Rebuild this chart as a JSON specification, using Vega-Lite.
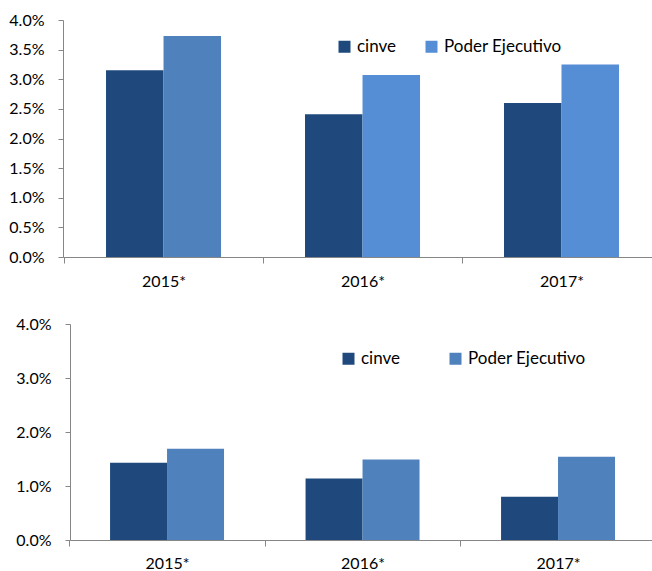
{
  "$schema": "https://vega.github.io/schema/vega-lite/v6.json",
  "padding": {"left": 8, "top": 12, "right": 0, "bottom": 0},
  "background": "white",
  "spacing": 27,
  "config": {
    "view": {"stroke": null},
    "font": "Lato",
    "axis": {"labelFont": "Lato", "labelFontSize": 16, "labelColor": "#000000", "domainColor": "#868686", "tickColor": "#868686", "grid": false, "title": null, "tickSize": 6},
    "legend": {"labelFont": "Lato", "labelFontSize": 17, "labelColor": "#000000"}
  },
  "datasets": {
    "top": [
      {"year": "2015*", "series": "cinve", "value": 0.0315},
      {"year": "2015*", "series": "Poder Ejecutivo", "value": 0.0373},
      {"year": "2016*", "series": "cinve", "value": 0.0241},
      {"year": "2016*", "series": "Poder Ejecutivo", "value": 0.0307},
      {"year": "2017*", "series": "cinve", "value": 0.0260},
      {"year": "2017*", "series": "Poder Ejecutivo", "value": 0.0325}
    ],
    "bottom": [
      {"year": "2015*", "series": "cinve", "value": 0.0143},
      {"year": "2015*", "series": "Poder Ejecutivo", "value": 0.0169},
      {"year": "2016*", "series": "cinve", "value": 0.0114},
      {"year": "2016*", "series": "Poder Ejecutivo", "value": 0.0149},
      {"year": "2017*", "series": "cinve", "value": 0.0080},
      {"year": "2017*", "series": "Poder Ejecutivo", "value": 0.0154}
    ]
  },
  "resolve": {"scale": {"x": "independent", "y": "independent", "color": "independent", "xOffset": "independent"}, "legend": {"color": "independent"}},
  "vconcat": [
    {
      "width": 589,
      "height": 237,
      "data": {"name": "top"},
      "mark": {"type": "bar"},
      "encoding": {
        "x": {"field": "year", "type": "nominal", "sort": ["2015*", "2016*", "2017*"],
          "scale": {"paddingInner": 0.422, "paddingOuter": 0.191, "align": 0.566},
          "axis": {"labelAngle": 0, "tickOffset": -99.5, "labelOffset": 99.5, "labelPadding": 10}},
        "xOffset": {"field": "series", "type": "nominal", "sort": ["cinve", "Poder Ejecutivo"], "scale": {"paddingInner": 0, "paddingOuter": 0}},
        "y": {"field": "value", "type": "quantitative",
          "scale": {"domain": [0, 0.04], "nice": false},
          "axis": {"values": [0, 0.005, 0.01, 0.015, 0.02, 0.025, 0.03, 0.035, 0.04], "format": ".1%", "tickSize": 5, "labelPadding": 14}},
        "color": {
          "condition": {"test": "datum.year === '2015*' && datum.series === 'Poder Ejecutivo'", "value": "#4F81BD"},
          "field": "series", "type": "nominal",
          "scale": {"domain": ["cinve", "Poder Ejecutivo"], "range": ["#1F497D", "#558ED5"]},
          "legend": {"title": null, "orient": "none", "direction": "horizontal", "legendX": 273, "legendY": 18, "padding": 0,
            "symbolType": "square", "symbolSize": 144, "symbolStrokeWidth": 0, "labelOffset": 4, "columnPadding": 26}
        }
      }
    },
    {
      "width": 589,
      "height": 216,
      "data": {"name": "bottom"},
      "mark": {"type": "bar"},
      "encoding": {
        "x": {"field": "year", "type": "nominal", "sort": ["2015*", "2016*", "2017*"],
          "scale": {"range": [7, 589], "paddingInner": 0.417, "paddingOuter": 0.197, "align": 0.52},
          "axis": {"labelAngle": 0, "tickOffset": -97.75, "labelOffset": 97.75, "labelPadding": 9}},
        "xOffset": {"field": "series", "type": "nominal", "sort": ["cinve", "Poder Ejecutivo"], "scale": {"paddingInner": 0, "paddingOuter": 0}},
        "y": {"field": "value", "type": "quantitative",
          "scale": {"domain": [0, 0.04], "nice": false},
          "axis": {"values": [0, 0.01, 0.02, 0.03, 0.04], "format": ".1%", "tickSize": 5, "labelPadding": 14, "offset": -7}},
        "color": {
          "field": "series", "type": "nominal",
          "scale": {"domain": ["cinve", "Poder Ejecutivo"], "range": ["#1F497D", "#4F81BD"]},
          "legend": {"title": null, "orient": "none", "direction": "horizontal", "legendX": 277, "legendY": 26, "padding": 0,
            "symbolType": "square", "symbolSize": 144, "symbolStrokeWidth": 0, "labelOffset": 4, "columnPadding": 46}
        }
      }
    }
  ]
}
